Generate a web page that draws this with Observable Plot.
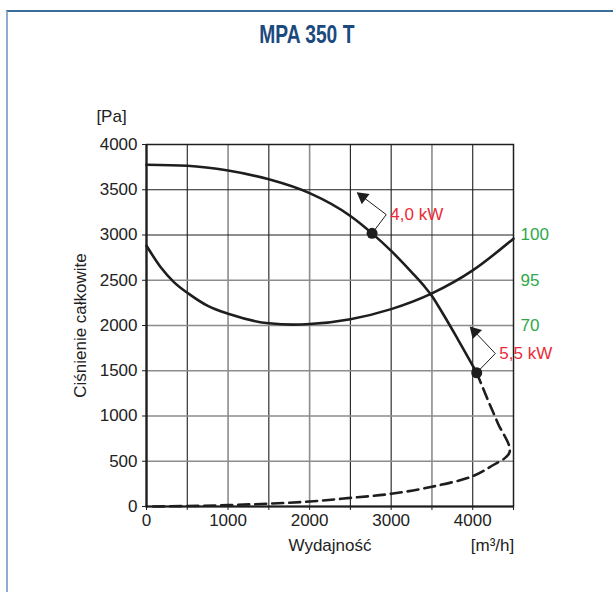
<!DOCTYPE html>
<html>
<head>
<meta charset="utf-8">
<script src="https://cdn.jsdelivr.net/npm/d3@7"></script>
<script src="https://cdn.jsdelivr.net/npm/@observablehq/plot@0.6"></script>
<style>
  html, body { margin: 0; padding: 0; background: #fff; }
  body { width: 613px; height: 592px; position: relative; overflow: hidden; font-family: "Liberation Sans", Arial, sans-serif; }
  #frame { position: absolute; left: 6px; top: 10px; width: 700px; height: 700px;
           border-top: 2px solid #3a6c9e; border-left: 2px solid #8eadd0; box-sizing: border-box; }
  #title { position: absolute; left: 0; top: 20px; width: 613px; text-align: center; }
  #title span { display: inline-block; font-family: "Liberation Sans", Arial, sans-serif; font-weight: bold;
                font-size: 25px; color: #1b4a7f; transform: scaleX(0.77); transform-origin: center; }
  #chart { position: absolute; left: 0; top: 60px; }
</style>
</head>
<body>
<div id="frame"></div>
<div id="title"><span>MPA 350 T</span></div>
<div id="chart"></div>
<script>
// Fan characteristic (solid part), m3/h vs Pa
const fanFlow = [0, 500, 1000, 1500, 2000, 2500, 2766, 3000, 3250, 3400, 3500, 3600, 3816, 4049];
const fanPressure = [3777, 3765, 3712, 3615, 3462, 3210, 3018, 2824, 2590, 2440, 2325, 2182, 1850, 1478];
// Dashed continuation
const dashFlow = [4049, 4185, 4308, 4452, 4226, 4000, 3500, 3000, 2500, 2000, 1500, 1000, 500, 0];
const dashPressure = [1478, 1178, 921, 600, 445, 335, 218, 140, 95, 55, 32, 15, 5, 0];
// U-shaped curve
const uFlow = [0, 172, 336, 520, 746, 1012, 1500, 1800, 2000, 2500, 3000, 3500, 4000, 4500];
const uPressure = [2881, 2647, 2480, 2349, 2219, 2126, 2024, 2010, 2016, 2070, 2181, 2355, 2609, 2960];
// Motor power points
const kwLabels = ["4,0 kW", "5,5 kW"];
const kwFlow = [2766, 4049];
const kwPressure = [3018, 1478];
const kwVertexFlow = [2940, 4277];
const kwVertexPressure = [3225, 1690];
const kwTipFlow = [2592, 3975];
const kwTipPressure = [3462, 1978];
// Right-hand green labels
const rightLabels = ["100", "95", "70"];
const rightLabelPressure = [3000, 2500, 2000];
// Axes
const xTicks = [0, 500, 1000, 1500, 2000, 2500, 3000, 3500, 4000, 4500];
const yTicks = [0, 500, 1000, 1500, 2000, 2500, 3000, 3500, 4000];
const gridDarkX = [500, 1500, 2500, 3000, 4000];
const gridGreyX = [1000, 2000, 3500];
const gridDarkY = [3000, 3500];
const gridGreyY = [500, 1000, 1500, 2000, 2500];
const xTitle = "Wydajność";
const xUnit = "[m³/h]";
const yTitle = "Ciśnienie całkowite";
const yUnit = "[Pa]";

const W = 613, H = 532;
const mL = 146, mR = 100, mT = 84, mB = 86;
const kx = (W - mL - mR) / 4500, ky = (H - mT - mB) / 4000;

const fan = fanFlow.map((x, i) => ({x, y: fanPressure[i]}));
const dash = dashFlow.map((x, i) => ({x, y: dashPressure[i]}));
const ucurve = uFlow.map((x, i) => ({x, y: uPressure[i]}));
const kw = kwLabels.map((label, i) => ({label, x: kwFlow[i], y: kwPressure[i],
  vx: kwVertexFlow[i], vy: kwVertexPressure[i], tx: kwTipFlow[i], ty: kwTipPressure[i]}));
const leaders = kw.flatMap((d, i) => [
  {k: i, x: d.x, y: d.y}, {k: i, x: d.vx, y: d.vy}, {k: i, x: d.tx, y: d.ty}]);
const heads = kw.map(d => {
  const dxp = (d.tx - d.vx) * kx, dyp = -(d.ty - d.vy) * ky;
  const len = Math.hypot(dxp, dyp);
  const back = 6;
  return {
    x: d.tx - (dxp / len) * back / kx,
    y: d.ty + (dyp / len) * back / ky,
    rot: Math.atan2(dxp, -dyp) * 180 / Math.PI
  };
});
const right = rightLabels.map((t, i) => ({t, y: rightLabelPressure[i]}));

const chart = Plot.plot({
  width: W, height: H,
  marginLeft: mL, marginRight: mR, marginTop: mT, marginBottom: mB,
  x: {domain: [0, 4500]},
  y: {domain: [0, 4000]},
  style: {fontFamily: "'Liberation Sans', Arial, sans-serif", fontSize: "17px", color: "#222", background: "transparent"},
  marks: [
    Plot.ruleX(gridGreyX, {stroke: "#8c8c8c", strokeWidth: 1.6}),
    Plot.ruleX(gridDarkX, {stroke: "#1e1e1e", strokeWidth: 1.1}),
    Plot.ruleY(gridGreyY, {stroke: "#8c8c8c", strokeWidth: 1.6}),
    Plot.ruleY(gridDarkY, {stroke: "#1e1e1e", strokeWidth: 1.1}),
    Plot.frame({stroke: "#1e1e1e", strokeWidth: 1.5}),
    Plot.ruleX([0], {stroke: "#1e1e1e", strokeWidth: 2.2}),
    Plot.ruleY([0], {stroke: "#1e1e1e", strokeWidth: 2.2}),
    Plot.axisX({ticks: xTicks, tickFormat: d => d % 1000 === 0 ? String(d) : "", tickSize: 4, tickPadding: 3, label: null, stroke: "#1e1e1e", fill: "#222"}),
    Plot.axisY({ticks: yTicks, tickFormat: d => String(d), tickSize: 4, tickPadding: 5, label: null, stroke: "#1e1e1e", fill: "#222"}),
    Plot.line(ucurve, {x: "x", y: "y", curve: "monotone-x", stroke: "#1e1e1e", strokeWidth: 2.6}),
    Plot.line(dash, {x: "x", y: "y", curve: "catmull-rom", stroke: "#1e1e1e", strokeWidth: 2.6, strokeDasharray: "11,6"}),
    Plot.line(fan, {x: "x", y: "y", curve: "monotone-x", stroke: "#1e1e1e", strokeWidth: 2.6}),
    Plot.line(leaders, {x: "x", y: "y", z: "k", stroke: "#1e1e1e", strokeWidth: 1}),
    Plot.dot(heads, {x: "x", y: "y", symbol: "triangle", r: 4.8, fill: "#1e1e1e", stroke: null, rotate: "rot"}),
    Plot.dot(kw, {x: "x", y: "y", r: 5.5, fill: "#1e1e1e", stroke: null}),
    Plot.text(kw, {x: "vx", y: "vy", text: "label", textAnchor: "start", dx: 4, fill: "#ec2a37", fontSize: 17}),
    Plot.text(right, {x: () => 4500, y: "y", text: "t", textAnchor: "start", dx: 7, fill: "#2ea84a", fontSize: 17}),
    Plot.text([yTitle], {frameAnchor: "left", textAnchor: "middle", rotate: -90, dx: -66, fill: "#222", fontSize: 17}),
    Plot.text([yUnit], {frameAnchor: "top-left", textAnchor: "middle", dx: -35, dy: -35, fill: "#222", fontSize: 17}),
    Plot.text([xTitle], {frameAnchor: "bottom", textAnchor: "middle", dy: 44, fill: "#222", fontSize: 17}),
    Plot.text([xUnit], {frameAnchor: "bottom-right", textAnchor: "middle", dx: -21, dy: 44, fill: "#222", fontSize: 17})
  ]
});
document.getElementById("chart").appendChild(chart);
</script>
</body>
</html>
